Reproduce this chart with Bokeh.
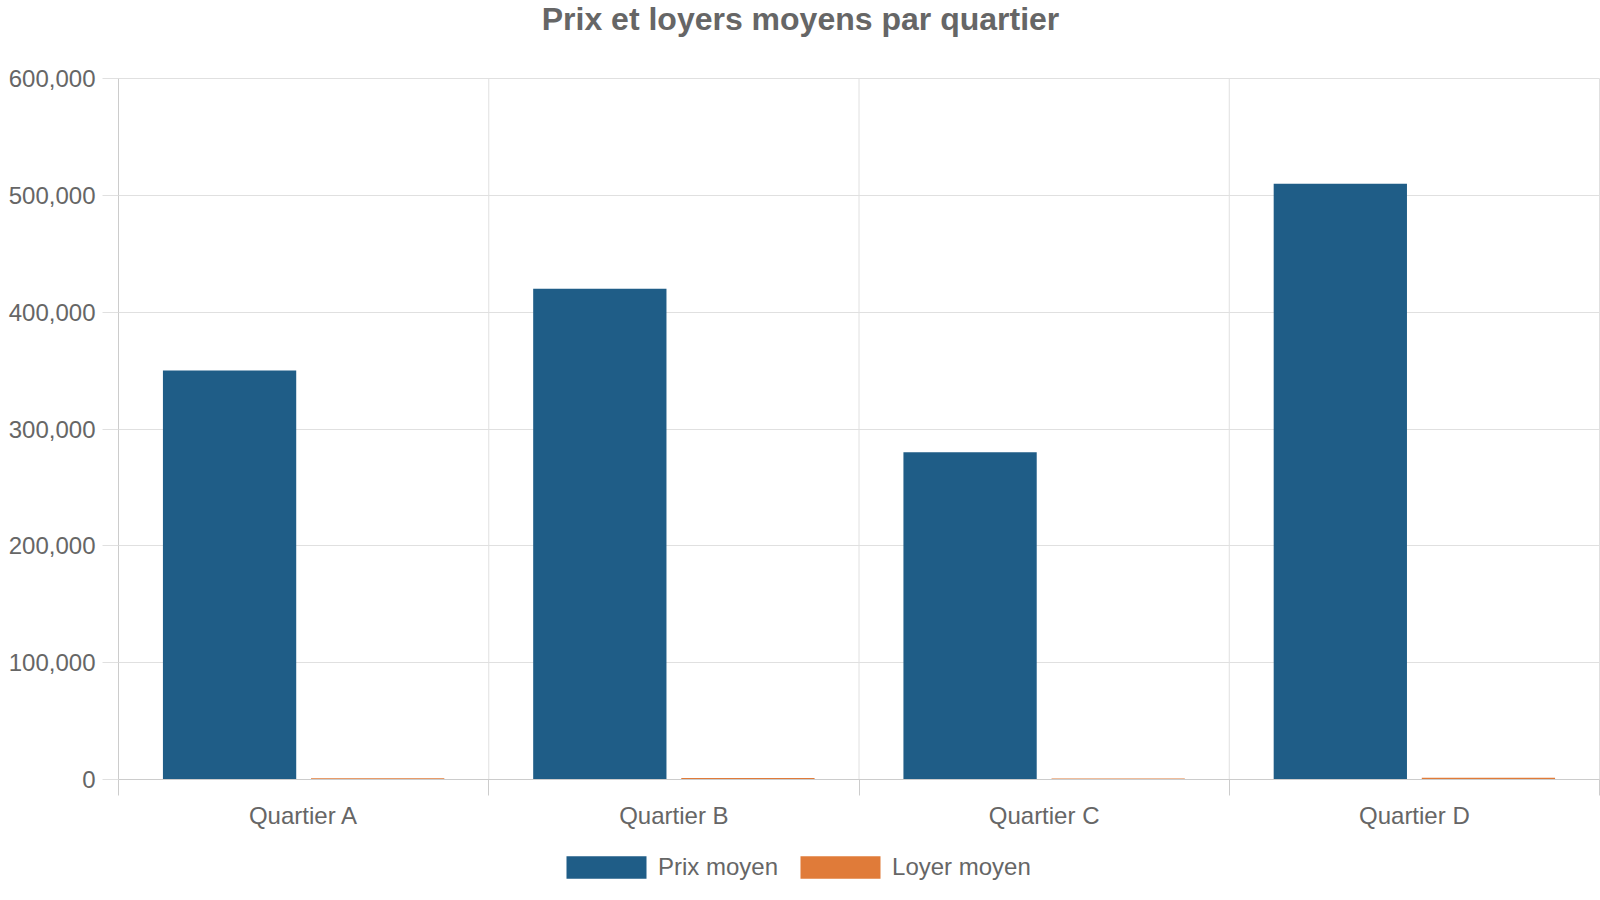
from bokeh.plotting import figure
from bokeh.layouts import column
from bokeh.models import (FactorRange, Range1d, CategoricalAxis, FixedTicker, Label,
                          NumeralTickFormatter, ColumnDataSource, Legend, LegendItem, Span)
from bokeh.transform import dodge
from bokeh.embed import file_html
from bokeh.resources import INLINE

# ---- data ----
quartiers = ["Quartier A", "Quartier B", "Quartier C", "Quartier D"]
prix_moyen = [350000, 420000, 280000, 510000]
loyer_moyen = [1100, 1300, 900, 1500]
y_ticks = [0, 100000, 200000, 300000, 400000, 500000, 600000]
series_names = ["Prix moyen", "Loyer moyen"]
title_text = "Prix et loyers moyens par quartier"

FONT = "Liberation Sans"
TEXT = "#666666"
GRID = "#e0e0e0"
AXIS = "#cccccc"
BLUE = "#1f5d87"
ORANGE = "#e07b39"
W = 1600
LEFT = 118
RIGHT = 1


def bare_figure(height):
    f = figure(width=W, height=height, x_range=Range1d(0, 1), y_range=Range1d(0, 1),
               output_backend="svg", toolbar_location=None, title=None,
               x_axis_location=None, y_axis_location=None,
               min_border_left=LEFT, min_border_right=RIGHT,
               min_border_top=0, min_border_bottom=0)
    f.grid.visible = False
    f.outline_line_color = None
    f.background_fill_color = "white"
    f.border_fill_color = "white"
    return f


# ---- title strip ----
top = bare_figure(40)
top.add_layout(Label(x=W / 2 - LEFT, y=22, x_units="screen", y_units="screen", text=title_text,
                     text_align="center", text_baseline="middle",
                     text_font=FONT, text_font_size="32px", text_font_style="bold",
                     text_color=TEXT))

# ---- main chart ----
src = ColumnDataSource(dict(quartier=quartiers, prix=prix_moyen, loyer=loyer_moyen))

p = figure(width=W, height=800,
           x_range=FactorRange(factors=quartiers),
           y_range=Range1d(0, max(y_ticks)),
           output_backend="svg", toolbar_location=None, title=None,
           x_axis_location=None,
           min_border_left=LEFT, min_border_right=RIGHT,
           min_border_top=38, min_border_bottom=61)
p.background_fill_color = "white"
p.border_fill_color = "white"
p.outline_line_color = GRID

r1 = p.vbar(x=dodge("quartier", -0.2, range=p.x_range), top="prix", width=0.36,
            source=src, fill_color=BLUE, line_color=None)
r2 = p.vbar(x=dodge("quartier", 0.2, range=p.x_range), top="loyer", width=0.36,
            source=src, fill_color=ORANGE, line_color=None)

# category boundaries (synthetic coordinates of the factor range)
n = len(quartiers)
edges = [float(i) for i in range(n + 1)]

p.xgrid.visible = False
for e in edges:
    p.add_layout(Span(location=e, dimension="height", line_color=GRID, line_width=1,
                      level="underlay"))

edge_axis = CategoricalAxis(ticker=FixedTicker(ticks=edges))
edge_axis.axis_line_color = AXIS
edge_axis.major_tick_line_color = AXIS
edge_axis.major_tick_out = 16
edge_axis.major_tick_in = 0
edge_axis.major_label_text_font_size = "1px"
edge_axis.major_label_text_color = None
edge_axis.major_label_standoff = 0
p.add_layout(edge_axis, "below")

label_axis = CategoricalAxis()
label_axis.axis_line_color = None
label_axis.major_tick_line_color = None
label_axis.major_tick_out = 0
label_axis.major_tick_in = 0
label_axis.major_label_standoff = 6
label_axis.major_label_text_font = FONT
label_axis.major_label_text_font_size = "24px"
label_axis.major_label_text_color = TEXT
p.add_layout(label_axis, "below")

p.yaxis.ticker = FixedTicker(ticks=y_ticks)
p.yaxis.formatter = NumeralTickFormatter(format="0,0")
p.yaxis.axis_line_color = AXIS
p.yaxis.major_tick_line_color = GRID
p.yaxis.major_tick_out = 16
p.yaxis.major_tick_in = 0
p.yaxis.minor_tick_line_color = None
p.yaxis.major_label_standoff = 7
p.yaxis.major_label_text_font = FONT
p.yaxis.major_label_text_font_size = "24px"
p.yaxis.major_label_text_color = TEXT
p.ygrid.ticker = FixedTicker(ticks=y_ticks)
p.ygrid.grid_line_color = GRID

# ---- legend strip (legend swatches only; the glyph sits outside the visible range) ----
bottom = bare_figure(52)
key = ColumnDataSource(dict(x=[-5.0], top=[-5.0]))
lr1 = bottom.vbar(x="x", top="top", width=0.1, source=key, fill_color=BLUE, line_color=None)
lr2 = bottom.vbar(x="x", top="top", width=0.1, source=key, fill_color=ORANGE, line_color=None)
legend = Legend(items=[LegendItem(label=series_names[0], renderers=[lr1]),
                       LegendItem(label=series_names[1], renderers=[lr2])],
                orientation="horizontal", location=(438, 11),
                glyph_width=100, glyph_height=28, label_standoff=2, spacing=12,
                padding=0, margin=0, border_line_color=None,
                background_fill_alpha=0,
                label_text_font=FONT, label_text_font_size="24px",
                label_text_color=TEXT)
bottom.add_layout(legend, "center")

layout = column(top, p, bottom, spacing=0)
open("out.html", "w").write(file_html(layout, INLINE))
